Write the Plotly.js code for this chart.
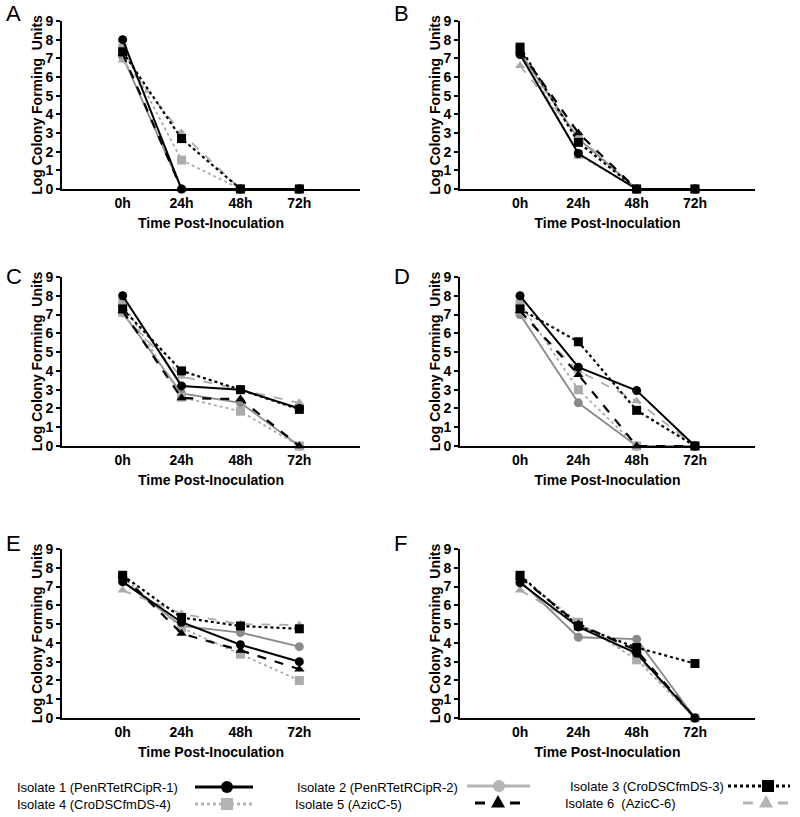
<!DOCTYPE html>
<html>
<head>
<meta charset="utf-8">
<script src="https://cdn.plot.ly/plotly-3.0.1.min.js"></script>
<style>
  body { margin: 0; background: #fff; }
  #chart { width: 800px; height: 817px; }
</style>
</head>
<body>
<div id="chart"></div>
<script>
// time points on the x axis
var timepoints = ["0h", "24h", "48h", "72h"];

// isolate names, legend order
var isolates = ["Isolate 1 (PenRTetRCipR-1)", "Isolate 2 (PenRTetRCipR-2)", "Isolate 3 (CroDSCfmDS-3)",
    "Isolate 4 (CroDSCfmDS-4)", "Isolate 5 (AzicC-5)", "Isolate 6  (AzicC-6)"];

// log CFU per panel, one row per isolate (1..6)
var panelA = [
    [8.0, 0, 0, 0],
    [7.1, 0, 0, 0],
    [7.35, 2.7, 0, 0],
    [7.55, 1.55, 0, 0],
    [7.25, 0, 0, 0],
    [6.9, 3.0, 0, 0]
];
var panelB = [
    [7.2, 1.9, 0, 0],
    [7.3, 2.7, 0, 0],
    [7.6, 2.5, 0, 0],
    [7.5, 1.85, 0, 0],
    [7.4, 3.0, 0, 0],
    [6.6, 2.8, 0, 0]
];
var panelC = [
    [8.0, 3.2, 3.0, 2.0],
    [7.1, 2.8, 2.3, 0],
    [7.3, 4.0, 3.0, 1.95],
    [7.6, 2.6, 1.85, 0],
    [7.2, 2.55, 2.5, 0],
    [7.0, 3.7, 3.0, 2.3]
];
var panelD = [
    [8.0, 4.2, 2.95, 0],
    [7.0, 2.3, 0, 0],
    [7.3, 5.55, 1.9, 0],
    [7.6, 3.0, 0, 0],
    [7.2, 3.8, 0, 0],
    [7.1, 4.0, 2.4, 0]
];
var panelE = [
    [7.25, 5.1, 3.9, 3.0],
    [7.3, 4.9, 4.55, 3.8],
    [7.6, 5.35, 4.9, 4.75],
    [7.5, 4.8, 3.4, 2.0],
    [7.6, 4.5, 3.6, 2.6],
    [6.8, 5.55, 5.0, 4.95]
];
var panelF = [
    [7.2, 4.85, 3.45, 0],
    [7.3, 4.3, 4.2, 0],
    [7.6, 4.9, 3.75, 2.9],
    [7.5, 5.1, 3.1, 0],
    [7.5, 5.0, 3.6, 0],
    [6.8, 5.0, 3.3, 0]
];
var panelLetters = ["A", "B", "C", "D", "E", "F"];
var yTicks = [0, 1, 2, 3, 4, 5, 6, 7, 8, 9];

var panels = [panelA, panelB, panelC, panelD, panelE, panelF];

// styles per isolate
var colors = ["#000000", "#8a8a8a", "#000000", "#ababab", "#000000", "#ababab"];
var dashes = ["solid", "solid", "dot", "dot", "dash", "dash"];
var symbols = ["circle", "circle", "square", "square", "triangle-up", "triangle-up"];
var widths = [2, 1.8, 2.2, 1.8, 2.2, 1.8];
var drawOrder = [1, 3, 5, 4, 0, 2];

var W = 800, H = 817;
function px(x) { return x / W; }
function py(y) { return 1 - y / H; }

// panel boxes in pixels: left, right, top, bottom
var boxes = [[62, 360, 21, 189], [460, 755, 21, 189], [62, 360, 277, 446],
    [460, 755, 277, 446], [62, 360, 549, 718], [460, 755, 549, 718]];
var letterPos = [[4, 14], [392, 14], [4, 276], [392, 276], [4, 543], [392, 543]];

var font = "Liberation Sans, Arial, sans-serif";
var data = [];
var layout = {
    width: W, height: H,
    margin: {l: 0, r: 0, t: 0, b: 0},
    paper_bgcolor: "#fff", plot_bgcolor: "#fff",
    showlegend: false,
    font: {family: font, color: "#000"},
    annotations: [],
    shapes: []
};

panels.forEach(function(panel, p) {
    var n = p === 0 ? "" : String(p + 1);
    drawOrder.forEach(function(i) {
        data.push({
            x: timepoints, y: panel[i],
            xaxis: "x" + n, yaxis: "y" + n,
            type: "scatter", mode: "lines+markers",
            name: isolates[i],
            cliponaxis: false,
            line: {color: colors[i], dash: dashes[i], width: widths[i]},
            marker: {color: colors[i], symbol: symbols[i], size: 9}
        });
    });
    var b = boxes[p];
    layout["xaxis" + n] = {
        domain: [px(b[0]), px(b[1])],
        anchor: "y" + n,
        type: "category",
        range: [-1.03, 4.03],
        showline: true, linecolor: "#000", linewidth: 2,
        showgrid: false, zeroline: false, ticks: "",
        tickfont: {size: 14, weight: "bold", family: font},
        title: {text: "Time Post-Inoculation", font: {size: 14, weight: "bold", family: font}, standoff: 8}
    };
    layout["yaxis" + n] = {
        domain: [py(b[3]), py(b[2])],
        anchor: "x" + n,
        range: [0, 9],
        tickvals: yTicks,
        showline: true, linecolor: "#000", linewidth: 2,
        showgrid: false, zeroline: false,
        ticks: "outside", ticklen: 4, tickwidth: 2, tickcolor: "#000",
        tickfont: {size: 14, weight: "bold", family: font},
        title: {text: "Log Colony Forming  Units", font: {size: 14, weight: "bold", family: font}, standoff: 0}
    };
    layout.annotations.push({
        text: panelLetters[p], xref: "paper", yref: "paper",
        x: px(letterPos[p][0]), y: py(letterPos[p][1]),
        xanchor: "left", yanchor: "middle", showarrow: false,
        font: {size: 22, family: font}
    });
});

// legend, drawn as text + small sample shapes
var legendText = [[15, 787], [295, 787], [568, 786], [15, 804], [293, 804], [563, 803]];
isolates.forEach(function(name, i) {
    layout.annotations.push({
        text: name, xref: "paper", yref: "paper",
        x: px(legendText[i][0]), y: py(legendText[i][1]),
        xanchor: "left", yanchor: "middle", showarrow: false,
        font: {size: 13, family: font}
    });
});

function seg(x0, x1, y, color, dash, w) {
    layout.shapes.push({type: "line", xref: "paper", yref: "paper",
        x0: px(x0), x1: px(x1), y0: py(y), y1: py(y),
        line: {color: color, dash: dash, width: w}});
}
function dot(cx, cy, r, color) {
    layout.shapes.push({type: "circle", xref: "paper", yref: "paper",
        x0: px(cx - r), x1: px(cx + r), y0: py(cy - r), y1: py(cy + r),
        fillcolor: color, line: {width: 0}});
}
function box(cx, cy, r, color) {
    layout.shapes.push({type: "rect", xref: "paper", yref: "paper",
        x0: px(cx - r), x1: px(cx + r), y0: py(cy - r), y1: py(cy + r),
        fillcolor: color, line: {width: 0}});
}
function tri(cx, cy, r, color) {
    var path = "M" + px(cx - r) + "," + py(cy + r * 0.8) +
        " L" + px(cx + r) + "," + py(cy + r * 0.8) +
        " L" + px(cx) + "," + py(cy - r) + " Z";
    layout.shapes.push({type: "path", xref: "paper", yref: "paper", path: path,
        fillcolor: color, line: {width: 0}});
}

var legendGray = "#b4b4b4";
seg(195, 253, 787, "#000", "solid", 3); dot(227, 787, 6, "#000");
seg(467, 530, 786, legendGray, "solid", 3); dot(499, 786, 6, legendGray);
seg(728, 790, 786, "#000", "dot", 3); box(768, 786, 6, "#000");
seg(195, 253, 804, legendGray, "dot", 3); box(227, 804, 6, legendGray);
seg(475, 485, 803, "#000", "solid", 3); seg(510, 520, 803, "#000", "solid", 3); tri(498, 802, 7, "#000");
seg(743, 753, 803, legendGray, "solid", 3); seg(778, 788, 803, legendGray, "solid", 3); tri(766, 802, 7, legendGray);

Plotly.newPlot("chart", data, layout, {staticPlot: true});
</script>
</body>
</html>
